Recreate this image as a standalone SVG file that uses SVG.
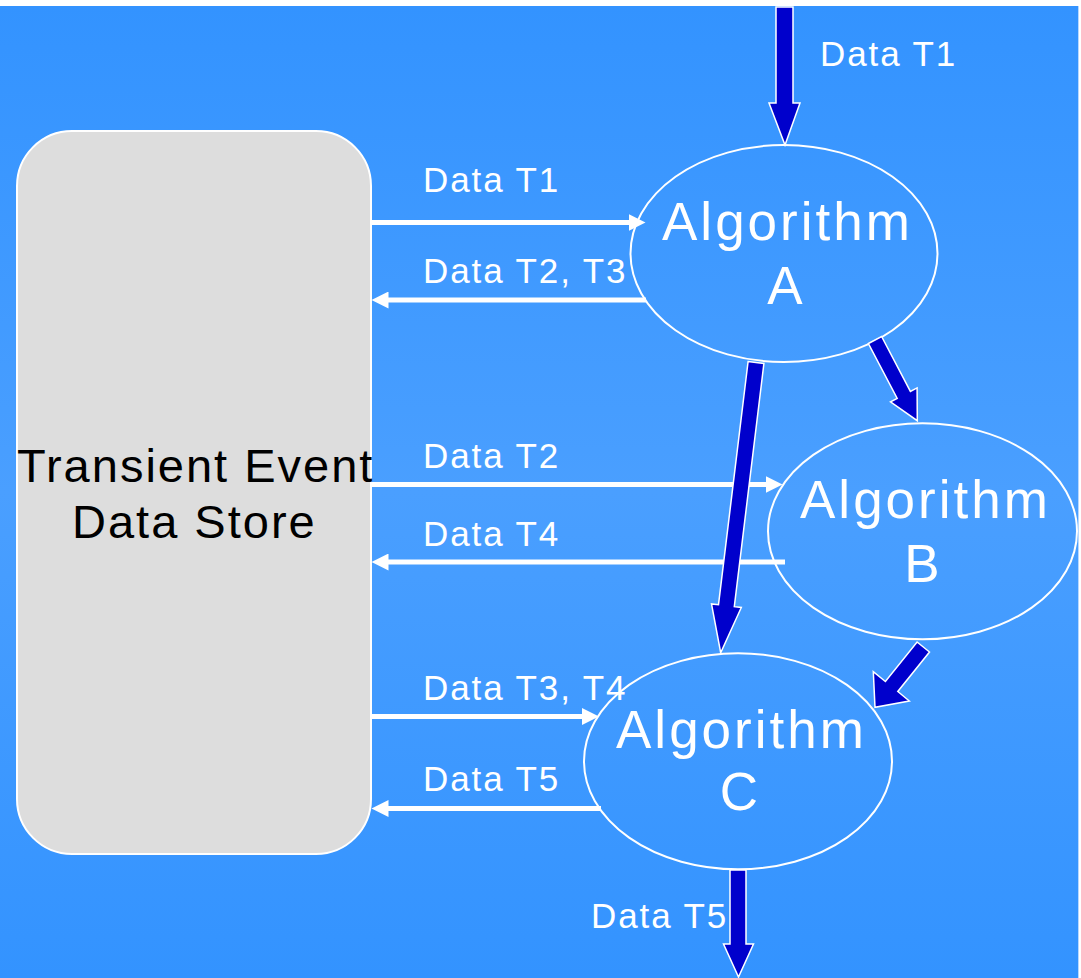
<svg xmlns="http://www.w3.org/2000/svg" width="1081" height="978" viewBox="0 0 1081 978">
  <defs>
    <linearGradient id="bg" x1="0" y1="0" x2="0" y2="1">
      <stop offset="0" stop-color="#3393FF"/>
      <stop offset="0.5" stop-color="#4A9FFF"/>
      <stop offset="1" stop-color="#3393FF"/>
    </linearGradient>
    <marker id="wh" markerUnits="userSpaceOnUse" markerWidth="18" markerHeight="17" refX="0.5" refY="8.5" orient="auto">
      <path d="M0,0 L17,8.5 L0,17 z" fill="#FFFFFF"/>
    </marker>
  </defs>
  <style>
    .lbl { font-family: "Liberation Sans", Arial, sans-serif; font-size: 35px; letter-spacing: 1.9px; fill: #FFFFFF; }
    .alg { font-family: "Liberation Sans", Arial, sans-serif; font-size: 53px; letter-spacing: 3px; fill: #FFFFFF; }
    .letter { font-family: "Liberation Sans", Arial, sans-serif; font-size: 53px; fill: #FFFFFF; text-anchor: middle; }
    .store { font-family: "Liberation Sans", Arial, sans-serif; font-size: 47px; letter-spacing: 2px; fill: #000000; }
    .ell { fill: none; stroke: #FFFFFF; stroke-width: 2; }
    .wline { stroke: #FFFFFF; stroke-width: 5; fill: none; marker-end: url(#wh); }
    .barrow { fill: #0000CC; stroke: #FFFFFF; stroke-width: 1.5; stroke-linejoin: miter; }
  </style>

  <rect x="0" y="6" width="1078" height="972" fill="url(#bg)"/>
  <line x1="1078.5" y1="6" x2="1078.5" y2="978" stroke="#B8D8FF" stroke-width="1"/>

  <g id="store">
    <rect x="17" y="131" width="354" height="723" rx="55" ry="55" fill="#DDDDDD" stroke="#FFFFFF" stroke-width="2"/>
    <text class="store" x="17" y="482">Transient Event</text>
    <text class="store" x="72" y="538">Data Store</text>
  </g>

  <g id="algA">
    <ellipse class="ell" cx="784" cy="253.5" rx="153.5" ry="108.5"/>
    <text class="alg" x="662" y="240">Algorithm</text>
    <text class="letter" x="785" y="304">A</text>
  </g>

  <g id="algB">
    <ellipse class="ell" cx="922.5" cy="531.3" rx="154.5" ry="108"/>
    <text class="alg" x="800" y="518">Algorithm</text>
    <text class="letter" x="922" y="582">B</text>
  </g>

  <g id="algC">
    <ellipse class="ell" cx="738" cy="761.3" rx="154" ry="108"/>
    <text class="alg" x="616" y="748">Algorithm</text>
    <text class="letter" x="739" y="810">C</text>
  </g>

  <g id="connectors">
    <line class="wline" x1="371" y1="222.5" x2="629" y2="222.5"/>
    <line class="wline" x1="646" y1="300" x2="388" y2="300"/>
    <line class="wline" x1="371" y1="484.5" x2="766" y2="484.5"/>
    <line class="wline" x1="785" y1="562" x2="388" y2="562"/>
    <line class="wline" x1="371" y1="716.5" x2="582.5" y2="716.5"/>
    <line class="wline" x1="601" y1="808.5" x2="388" y2="808.5"/>

    <polygon class="barrow" points="776,7 793,7 793,103 800,103 785,145 769,103 776,103"/>
    <polygon class="barrow" points="730,870 746,870 746,944 753.5,944 738.5,977 723.5,944 730,944"/>
    <polygon class="barrow" points="748.1,361.5 763.9,363.5 734.3,606.7 741.3,607.5 720.7,652.7 711.5,603.9 718.5,604.7"/>
    <polygon class="barrow" points="868.4,343.5 881.6,336.5 910.4,391.4 917.1,387.9 917.3,420.7 890.5,401.9 897.2,398.4"/>
    <polygon class="barrow" points="917.1,642 929.5,652 897.8,691.5 909.3,701 875,707.3 873.3,671.7 885.4,681.5"/>
  </g>

  <g id="labels">
    <text class="lbl" x="820" y="66">Data T1</text>
    <text class="lbl" x="423" y="192">Data T1</text>
    <text class="lbl" x="423" y="283">Data T2, T3</text>
    <text class="lbl" x="423" y="468">Data T2</text>
    <text class="lbl" x="423" y="546">Data T4</text>
    <text class="lbl" x="423" y="700">Data T3, T4</text>
    <text class="lbl" x="423" y="791">Data T5</text>
    <text class="lbl" x="591" y="928">Data T5</text>
  </g>
</svg>
